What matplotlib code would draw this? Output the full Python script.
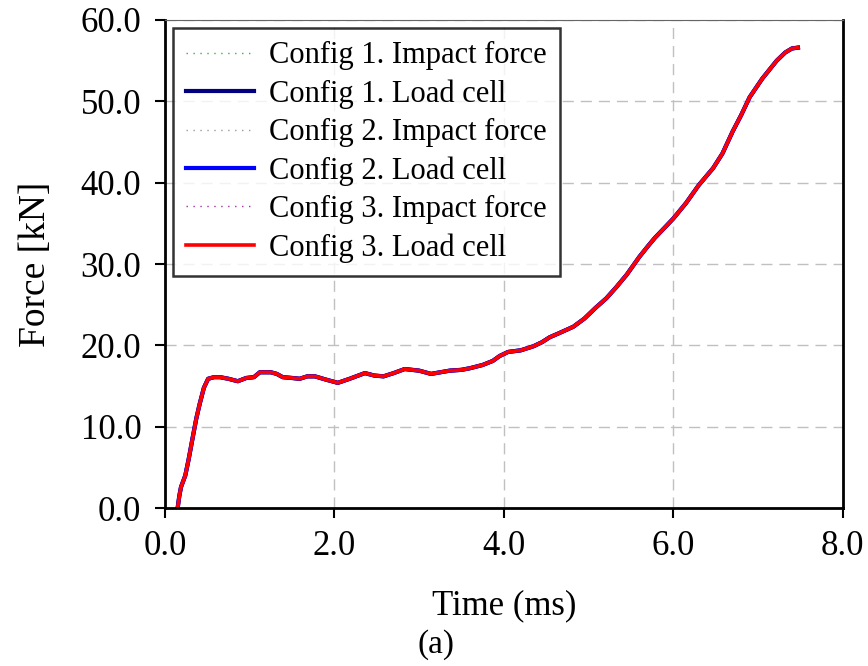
import matplotlib
matplotlib.use("Agg")
import matplotlib.pyplot as plt

plt.rcParams['font.family'] = ['Liberation Serif', 'DejaVu Serif']

# time (ms) and force (kN)
time_ms = [0.15, 0.17, 0.19, 0.24, 0.28, 0.33, 0.37, 0.41, 0.46, 0.51,
           0.58, 0.65, 0.75, 0.86, 0.96, 1.05, 1.12, 1.25, 1.32, 1.39,
           1.50, 1.59, 1.68, 1.77, 1.90, 2.04, 2.18, 2.36, 2.47, 2.58,
           2.70, 2.83, 3.00, 3.14, 3.25, 3.36, 3.50, 3.60, 3.75, 3.87,
           3.95, 4.05, 4.20, 4.35, 4.45, 4.54, 4.65, 4.82, 4.95, 5.08,
           5.21, 5.33, 5.45, 5.60, 5.70, 5.78, 5.90, 6.00, 6.15, 6.30,
           6.47, 6.58, 6.70, 6.80, 6.90, 7.05, 7.22, 7.32, 7.40, 7.47]

load_cell_3 = [0.0, 1.5, 2.6, 4.0, 6.0, 8.8, 11.0, 12.8, 14.8, 15.9,
               16.1, 16.1, 15.9, 15.6, 16.0, 16.1, 16.7, 16.7, 16.5, 16.1,
               16.0, 15.9, 16.2, 16.2, 15.8, 15.4, 15.9, 16.6, 16.3, 16.2,
               16.6, 17.1, 16.9, 16.5, 16.7, 16.9, 17.0, 17.2, 17.6, 18.1,
               18.7, 19.2, 19.4, 19.9, 20.4, 21.0, 21.5, 22.3, 23.3, 24.6,
               25.8, 27.2, 28.7, 30.9, 32.2, 33.2, 34.5, 35.6, 37.5, 39.7,
               41.8, 43.6, 46.3, 48.3, 50.5, 52.8, 55.0, 56.0, 56.5, 56.6]
load_cell_1 = list(load_cell_3)
load_cell_2 = list(load_cell_3)
impact_1 = list(load_cell_3)
impact_2 = list(load_cell_3)
impact_3 = list(load_cell_3)

fig = plt.figure(figsize=(8.68, 6.66), dpi=100)
ax = fig.add_axes([0.190, 0.237, 0.781, 0.733])

ax.plot(time_ms, impact_1, color='#3cb043', ls=(0, (1, 4)), lw=1, label='Config 1. Impact force')
ax.plot(time_ms, load_cell_1, color='#000080', lw=3, label='Config 1. Load cell')
ax.plot(time_ms, impact_2, color='#999999', ls=(0, (1, 4)), lw=1, label='Config 2. Impact force')
ax.plot(time_ms, load_cell_2, color='#0000ff', lw=3, label='Config 2. Load cell')
ax.plot(time_ms, impact_3, color='#993399', ls=(0, (1, 4)), lw=1, label='Config 3. Impact force')
ax.plot(time_ms, load_cell_3, color='#ff0000', lw=2.6, label='Config 3. Load cell')

ax.set_xlim(0, 8)
ax.set_ylim(0, 60)
ax.set_xticks([0, 2, 4, 6, 8])
ax.set_yticks([0, 10, 20, 30, 40, 50, 60])
ax.set_xticklabels(['0.0', '2.0', '4.0', '6.0', '8.0'])
ax.set_yticklabels(['0.0', '10.0', '20.0', '30.0', '40.0', '50.0', '60.0'])
ax.tick_params(labelsize=25, direction='out', length=7, width=1.5)
ax.tick_params(axis='x', pad=9)
ax.tick_params(axis='y', pad=10)

ax.grid(True, color='#c0c0c0', ls=(0, (8, 5)), lw=1)
ax.set_axisbelow(True)
for side in ['left', 'bottom', 'right']:
    ax.spines[side].set_linewidth(2)
ax.spines['top'].set_linewidth(0.8)
ax.spines['top'].set_color('#666666')

ax.set_xlabel('Time (ms)', fontsize=25, labelpad=19)
ax.set_ylabel('Force [kN]', fontsize=27, labelpad=20)
fig.text(0.502, 0.032, '(a)', fontsize=24, ha='center', va='center')

leg = ax.legend(loc='upper left', fontsize=22, frameon=True, fancybox=False,
                edgecolor='black', handlelength=2.2, labelspacing=0.3,
                borderpad=0.45, borderaxespad=0.25, handletextpad=0.5)
leg.get_frame().set_linewidth(1.8)

fig.savefig('out.png', dpi=100)
